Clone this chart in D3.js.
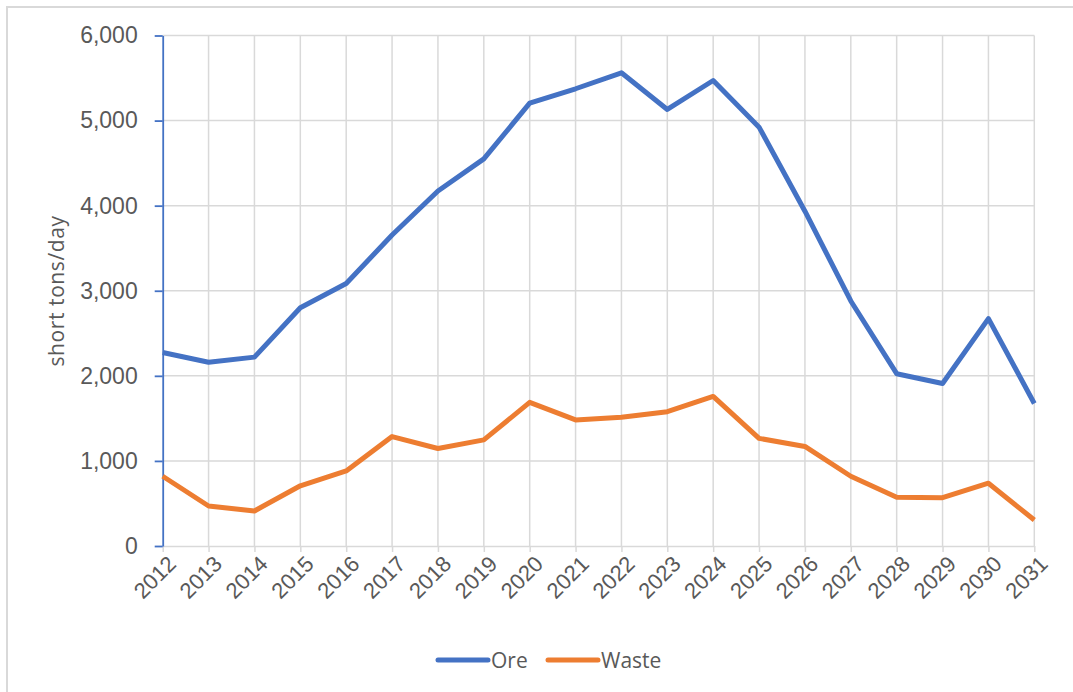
<!DOCTYPE html>
<html>
<head>
<meta charset="utf-8">
<script src="https://cdn.jsdelivr.net/npm/d3@7"></script>
<style>
  html, body { margin: 0; padding: 0; background: #fff; }
  svg { display: block; font-family: "Open Sans", sans-serif; }
</style>
</head>
<body>
<svg id="chart" width="1073" height="692"></svg>
<script>
// Production schedule, short tons per day
const years = ["2012","2013","2014","2015","2016","2017","2018","2019","2020","2021",
               "2022","2023","2024","2025","2026","2027","2028","2029","2030","2031"];
const ore   = [2275, 2160, 2220, 2800, 3085, 3655, 4172, 4550, 5205, 5374,
               5562, 5131, 5471, 4923, 3935, 2880, 2025, 1910, 2673, 1675];
const waste = [ 820,  470,  412,  708,  882, 1286, 1146, 1247, 1688, 1482,
               1514, 1578, 1758, 1265, 1170,  820,  572,  568,  738,  305];
const yTicks = [0, 1000, 2000, 3000, 4000, 5000, 6000];
const seriesNames = ["Ore", "Waste"];
const seriesColors = ["#4472C4", "#ED7D31"];

const svg = d3.select("#chart");
const W = 1073, H = 692;
const plotLeft = 162.7, plotRight = 1034.3, plotTop = 35.5, plotBottom = 546;

// outer chart frame
svg.append("rect")
  .attr("x", 7).attr("y", 7).attr("width", W + 10).attr("height", H + 10)
  .attr("fill", "#fff").attr("stroke", "#D9D9D9").attr("stroke-width", 2);

const x = d3.scalePoint().domain(years).range([plotLeft, plotRight]);
const y = d3.scaleLinear().domain([0, 6000]).range([plotBottom, plotTop]);

const grid = svg.append("g");
// horizontal gridlines
grid.selectAll("line.h").data(yTicks.slice(1)).join("line")
  .attr("class", "h")
  .attr("x1", plotLeft).attr("x2", plotRight)
  .attr("y1", d => y(d)).attr("y2", d => y(d))
  .attr("stroke", "#D9D9D9").attr("stroke-width", 1.5);
// vertical gridlines
grid.selectAll("line.v").data(years.slice(1)).join("line")
  .attr("class", "v")
  .attr("x1", d => x(d)).attr("x2", d => x(d))
  .attr("y1", plotTop).attr("y2", plotBottom)
  .attr("stroke", "#D9D9D9").attr("stroke-width", 1.5);

// x axis
const xAxis = svg.append("g")
  .attr("transform", `translate(0,${plotBottom})`)
  .call(d3.axisBottom(x).tickSize(6).tickSizeOuter(0));
xAxis.select(".domain").attr("stroke", "#D9D9D9").attr("stroke-width", 1.5);
xAxis.selectAll(".tick line").attr("stroke", "#D9D9D9").attr("stroke-width", 1.5);
xAxis.selectAll(".tick text")
  .attr("fill", "#595959")
  .style("font-size", "22px")
  .attr("text-anchor", "end")
  .attr("dy", null)
  .attr("y", 0)
  .attr("transform", "translate(9,14) rotate(-45)")
  .attr("dominant-baseline", "central");

// y axis
const yAxis = svg.append("g")
  .attr("transform", `translate(${plotLeft},0)`)
  .call(d3.axisLeft(y).tickValues(yTicks).tickSize(8).tickSizeOuter(0)
    .tickFormat(d3.format(",")));
yAxis.select(".domain").attr("stroke", "#4472C4").attr("stroke-width", 1.8);
yAxis.selectAll(".tick line").attr("stroke", "#4472C4").attr("stroke-width", 1.8);
yAxis.selectAll(".tick text")
  .attr("fill", "#595959")
  .style("font-size", "23px")
  .attr("x", -25);

// axis title
svg.append("text")
  .attr("transform", `translate(56,${(215 + 367) / 2}) rotate(-90)`)
  .attr("text-anchor", "middle")
  .attr("dominant-baseline", "central")
  .attr("fill", "#595959")
  .style("font-size", "21px")
  .style("letter-spacing", "0.6px")
  .text("short tons/day");

// series lines
const line = d3.line().x((d, i) => x(years[i])).y(d => y(d));
[ore, waste].forEach((vals, k) => {
  svg.append("path")
    .datum(vals)
    .attr("d", line)
    .attr("fill", "none")
    .attr("stroke", seriesColors[k])
    .attr("stroke-width", 5)
    .attr("stroke-linejoin", "round");
});

// legend
const legendX = [436, 546];
const lg = svg.append("g");
seriesNames.forEach((name, k) => {
  const x0 = legendX[k];
  lg.append("line")
    .attr("x1", x0 + 2).attr("x2", x0 + 52)
    .attr("y1", 660).attr("y2", 660)
    .attr("stroke", seriesColors[k]).attr("stroke-width", 5)
    .attr("stroke-linecap", "round");
  lg.append("text")
    .attr("x", x0 + 55).attr("y", 660)
    .attr("dominant-baseline", "central")
    .attr("fill", "#595959")
    .style("font-size", "21px")
    .text(name);
});
</script>
</body>
</html>
